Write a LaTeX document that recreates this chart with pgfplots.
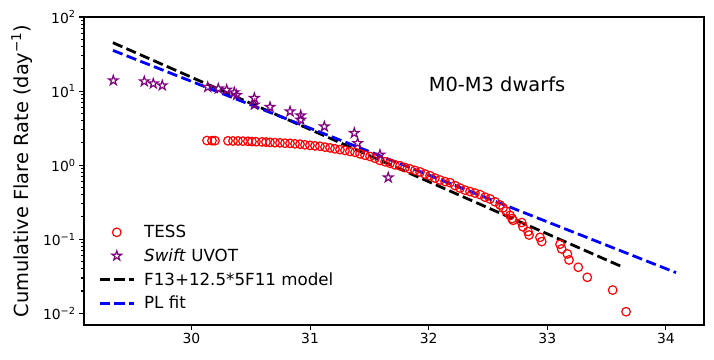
\documentclass[border=0pt]{standalone}
\usepackage{fontspec}
\setmainfont{DejaVu Sans}
\usepackage{pgfplots}
\pgfplotsset{compat=1.18}
\definecolor{mplpurple}{HTML}{800080}

% open five-pointed star, like matplotlib's '*'
\pgfdeclareplotmark{ostar}{%
  \pgfpathmoveto{\pgfpointpolar{90}{\pgfplotmarksize}}%
  \pgfpathlineto{\pgfpointpolar{126}{0.382\pgfplotmarksize}}%
  \pgfpathlineto{\pgfpointpolar{162}{\pgfplotmarksize}}%
  \pgfpathlineto{\pgfpointpolar{198}{0.382\pgfplotmarksize}}%
  \pgfpathlineto{\pgfpointpolar{234}{\pgfplotmarksize}}%
  \pgfpathlineto{\pgfpointpolar{270}{0.382\pgfplotmarksize}}%
  \pgfpathlineto{\pgfpointpolar{306}{\pgfplotmarksize}}%
  \pgfpathlineto{\pgfpointpolar{342}{0.382\pgfplotmarksize}}%
  \pgfpathlineto{\pgfpointpolar{18}{\pgfplotmarksize}}%
  \pgfpathlineto{\pgfpointpolar{54}{0.382\pgfplotmarksize}}%
  \pgfpathclose
  \pgfusepathqstroke
}

\pgfplotsset{
  markleg/.style={legend image code/.code={\path[draw=none,fill=none] (0pt,0pt) -- (34pt,0pt);\draw[##1] plot coordinates {(17pt,0pt)};}},
  lineleg/.style={legend image code/.code={\draw[##1] (0pt,0pt) -- (34pt,0pt);}},
}

\begin{document}
\begin{tikzpicture}
\begin{axis}[
  scale only axis,
  width=620pt, height=308pt,
  xmin=29.094, xmax=34.321,
  ymode=log, ymin=0.00695, ymax=100,
  xtick={30,31,32,33,34},
  ytick={0.01,0.1,1,10,100},
  yticklabels={10\textsuperscript{−2},10\textsuperscript{−1},10\textsuperscript{0},10\textsuperscript{1},10\textsuperscript{2}},
  tick align=outside,
  tick pos=left,
  major tick length=4.9pt,
  minor tick length=2.8pt,
  axis line style={line width=1.1pt},
  every tick/.style={black, line width=1.1pt},
  xticklabel style={font=\fontsize{13.9}{16}\selectfont},
  yticklabel style={font=\fontsize{13.9}{16}\selectfont},
  /pgf/number format/assume math mode=true,
  ylabel={Cumulative Flare Rate (day\textsuperscript{−1})},
  every axis y label/.style={at={(axis description cs:-0.1,0.5)}, rotate=90, anchor=center, font=\fontsize{19.4}{23}\selectfont},
  legend style={at={(0.018,0.034)}, anchor=south west, draw=none, fill=none,
    font=\fontsize{16.7}{20}\selectfont, row sep=5.5pt, column sep=7pt},
  legend cell align=left,
]
\coordinate (bl) at (rel axis cs:0,0);
\coordinate (tr) at (rel axis cs:1,1);

\addplot[only marks, mark=o, mark size=4.3pt, red, line width=1.2pt, markleg]
coordinates {
(30.131,2.15) (30.173,2.14) (30.198,2.14) (30.308,2.13) (30.350,2.12)
(30.392,2.12) (30.434,2.11) (30.476,2.10) (30.510,2.08) (30.544,2.07)
(30.594,2.06) (30.628,2.05) (30.662,2.03) (30.704,2.01) (30.746,2.00)
(30.788,1.98) (30.831,1.97) (30.873,1.94) (30.915,1.92) (30.957,1.88)
(30.999,1.85) (31.041,1.82) (31.083,1.80) (31.126,1.75) (31.168,1.71)
(31.210,1.66) (31.252,1.62) (31.294,1.58) (31.336,1.53) (31.379,1.49)
(31.421,1.42) (31.463,1.36) (31.505,1.31) (31.547,1.24) (31.589,1.16)
(31.632,1.11) (31.674,1.06) (31.716,1.01) (31.758,0.98) (31.800,0.93)
(31.842,0.89) (31.884,0.85) (31.927,0.81) (31.969,0.76) (32.011,0.72)
(32.053,0.67) (32.095,0.63) (32.138,0.60) (32.180,0.58) (32.222,0.53)
(32.264,0.49) (32.306,0.46) (32.348,0.44) (32.390,0.42) (32.433,0.40)
(32.475,0.37) (32.517,0.35) (32.559,0.32) (32.601,0.29) (32.627,0.265)
(32.652,0.24) (32.686,0.21) (32.703,0.19) (32.711,0.18) (32.784,0.168)
(32.795,0.147) (32.837,0.127) (32.846,0.114) (32.938,0.106) (32.953,0.093)
(33.107,0.0856) (33.121,0.074) (33.169,0.0633) (33.183,0.0525) (33.261,0.0418)
(33.337,0.0306) (33.551,0.0206) (33.664,0.0105)
};
\addlegendentry{TESS}

\addplot[only marks, mark=ostar, mark size=5pt, mplpurple, line width=1.2pt, markleg]
coordinates {
(29.341,13.9) (29.602,13.5) (29.678,12.6) (29.754,11.9) (30.137,11.3)
(30.226,10.8) (30.297,10.4) (30.361,9.58) (30.381,8.83) (30.530,8.04)
(30.530,6.53) (30.662,6.08) (30.831,5.30) (30.921,4.68) (30.921,4.09)
(31.120,3.32) (31.373,2.71) (31.401,1.98) (31.589,1.38) (31.659,0.68)
};
\addlegendentry{\textit{Swift} UVOT}

\addplot[black, line width=2.8pt, dash pattern=on 10.3pt off 4.4pt, lineleg]
coordinates {(29.338,45.0) (33.627,0.0427)};
\addlegendentry{F13+12.5*5F11 model}

\addplot[blue, line width=2.8pt, dash pattern=on 10.3pt off 4.4pt, lineleg]
coordinates {(29.338,35.4) (34.085,0.0354)};
\addlegendentry{PL fit}

\node[anchor=base west, inner sep=0pt, font=\fontsize{19.4}{23}\selectfont]
  at (axis cs:32,10) {M0-M3 dwarfs};
\end{axis}
\pgfresetboundingbox
\path[use as bounding box] ([shift={(-84pt,-34pt)}]bl) rectangle ([shift={(10pt,17pt)}]tr);
\end{tikzpicture}
\end{document}
